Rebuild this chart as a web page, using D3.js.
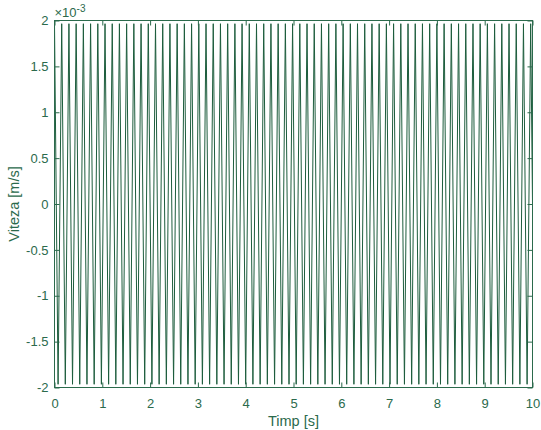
<!DOCTYPE html>
<html>
<head>
<meta charset="utf-8">
<script src="https://cdn.jsdelivr.net/npm/d3@7"></script>
<style>
  body { margin: 0; background: #fff; }
  svg { display: block; font-family: "Liberation Sans", Arial, sans-serif; }
  .axis text { fill: #2b6a4c; font-size: 13px; }
  .axis line { stroke: #2b6a4c; }
  .axis path { display: none; }
</style>
</head>
<body>
<script>
// time of each turning point [s]
const timeS = [
  0.000, 0.075, 0.151, 0.226, 0.302, 0.377, 0.453, 0.528, 0.604, 0.679,
  0.755, 0.830, 0.906, 0.981, 1.057, 1.132, 1.208, 1.283, 1.358, 1.434,
  1.509, 1.585, 1.660, 1.736, 1.811, 1.887, 1.962, 2.038, 2.113, 2.189,
  2.264, 2.340, 2.415, 2.491, 2.566, 2.641, 2.717, 2.792, 2.868, 2.943,
  3.019, 3.094, 3.170, 3.245, 3.321, 3.396, 3.472, 3.547, 3.623, 3.698,
  3.774, 3.849, 3.924, 4.000, 4.075, 4.151, 4.226, 4.302, 4.377, 4.453,
  4.528, 4.604, 4.679, 4.755, 4.830, 4.906, 4.981, 5.056, 5.132, 5.207,
  5.283, 5.358, 5.434, 5.509, 5.585, 5.660, 5.736, 5.811, 5.887, 5.962,
  6.038, 6.113, 6.189, 6.264, 6.339, 6.415, 6.490, 6.566, 6.641, 6.717,
  6.792, 6.868, 6.943, 7.019, 7.094, 7.170, 7.245, 7.321, 7.396, 7.472,
  7.547, 7.622, 7.698, 7.773, 7.849, 7.924, 8.000, 8.075, 8.151, 8.226,
  8.302, 8.377, 8.453, 8.528, 8.604, 8.679, 8.755, 8.830, 8.905, 8.981,
  9.056, 9.132, 9.207, 9.283, 9.358, 9.434, 9.509, 9.585, 9.660, 9.736,
  9.811, 9.887, 9.962, 10.000
];
// velocity at those points, in units of 1e-3 m/s
const velocityE3 = [
  1.965, -1.965, 1.965, -1.965, 1.965, -1.965, 1.965, -1.965, 1.965, -1.965,
  1.965, -1.965, 1.965, -1.965, 1.965, -1.965, 1.965, -1.965, 1.965, -1.965,
  1.965, -1.965, 1.965, -1.965, 1.965, -1.965, 1.965, -1.965, 1.965, -1.965,
  1.965, -1.965, 1.965, -1.965, 1.965, -1.965, 1.965, -1.965, 1.965, -1.965,
  1.965, -1.965, 1.965, -1.965, 1.965, -1.965, 1.965, -1.965, 1.965, -1.965,
  1.965, -1.965, 1.965, -1.965, 1.965, -1.965, 1.965, -1.965, 1.965, -1.965,
  1.965, -1.965, 1.965, -1.965, 1.965, -1.965, 1.965, -1.965, 1.965, -1.965,
  1.965, -1.965, 1.965, -1.965, 1.965, -1.965, 1.965, -1.965, 1.965, -1.965,
  1.965, -1.965, 1.965, -1.965, 1.965, -1.965, 1.965, -1.965, 1.965, -1.965,
  1.965, -1.965, 1.965, -1.965, 1.965, -1.965, 1.965, -1.965, 1.965, -1.965,
  1.965, -1.965, 1.965, -1.965, 1.965, -1.965, 1.965, -1.965, 1.965, -1.965,
  1.965, -1.965, 1.965, -1.965, 1.965, -1.965, 1.965, -1.965, 1.965, -1.965,
  1.965, -1.965, 1.965, -1.965, 1.965, -1.965, 1.965, -1.965, 1.965, -1.965,
  1.965, -1.965, 1.965, 0.000
];
const xTicks = [0, 1, 2, 3, 4, 5, 6, 7, 8, 9, 10];
const yTicks = [-2, -1.5, -1, -0.5, 0, 0.5, 1, 1.5, 2];

const width = 541, height = 430;
const plotLeft = 54.5, plotRight = 532.5, plotTop = 20.5, plotBottom = 387.5;
const ink = '#2b6a4c';

const svg = d3.select('body').append('svg')
    .attr('width', width)
    .attr('height', height)

const x = d3.scaleLinear().domain([0, 10]).range([plotLeft, plotRight]);
const y = d3.scaleLinear().domain([-2, 2]).range([plotBottom, plotTop]);

const points = timeS.map((t, i) => ({ t: t, v: velocityE3[i] }));

svg.append('path')
    .datum(points)
    .attr('fill', 'none')
    .attr('stroke', '#1d5d3d')
    .attr('stroke-width', 1)
    .attr('d', d3.line().x(d => x(d.t)).y(d => y(d.v)))

// axes with inward ticks, MATLAB style box
svg.append('g').attr('class', 'axis')
    .attr('transform', `translate(0,${plotBottom})`)
    .call(d3.axisBottom(x).tickValues(xTicks).tickSize(-5).tickPadding(11).tickFormat(d => String(d)))
svg.append('g').attr('class', 'axis')
    .attr('transform', `translate(0,${plotTop})`)
    .call(d3.axisTop(x).tickValues(xTicks).tickSize(-5).tickFormat(''))
svg.append('g').attr('class', 'axis')
    .attr('transform', `translate(${plotLeft},0)`)
    .call(d3.axisLeft(y).tickValues(yTicks).tickSize(-5).tickPadding(6).tickFormat(d => String(d)))
svg.append('g').attr('class', 'axis')
    .attr('transform', `translate(${plotRight},0)`)
    .call(d3.axisRight(y).tickValues(yTicks).tickSize(-5).tickFormat(''))

svg.append('rect')
    .attr('x', plotLeft)
    .attr('y', plotTop)
    .attr('width', plotRight - plotLeft)
    .attr('height', plotBottom - plotTop)
    .attr('fill', 'none')
    .attr('stroke', ink)
    .attr('stroke-width', 1)

// exponent label
const expo = svg.append('text')
    .attr('x', plotLeft)
    .attr('y', 17)
    .attr('fill', ink)
    .style('font-size', '13px')
expo.append('tspan').text('\u00d710')
expo.append('tspan').attr('dy', -5).style('font-size', '10px').text('-3')

svg.append('text')
    .attr('x', (plotLeft + plotRight) / 2)
    .attr('y', 426)
    .attr('text-anchor', 'middle')
    .attr('fill', ink)
    .style('font-size', '14.5px')
    .text('Timp [s]')

svg.append('text')
    .attr('transform', `translate(18.5,${(plotTop + plotBottom) / 2}) rotate(-90)`)
    .attr('text-anchor', 'middle')
    .attr('fill', ink)
    .style('font-size', '14.5px')
    .text('Viteza [m/s]')
</script>
</body>
</html>
